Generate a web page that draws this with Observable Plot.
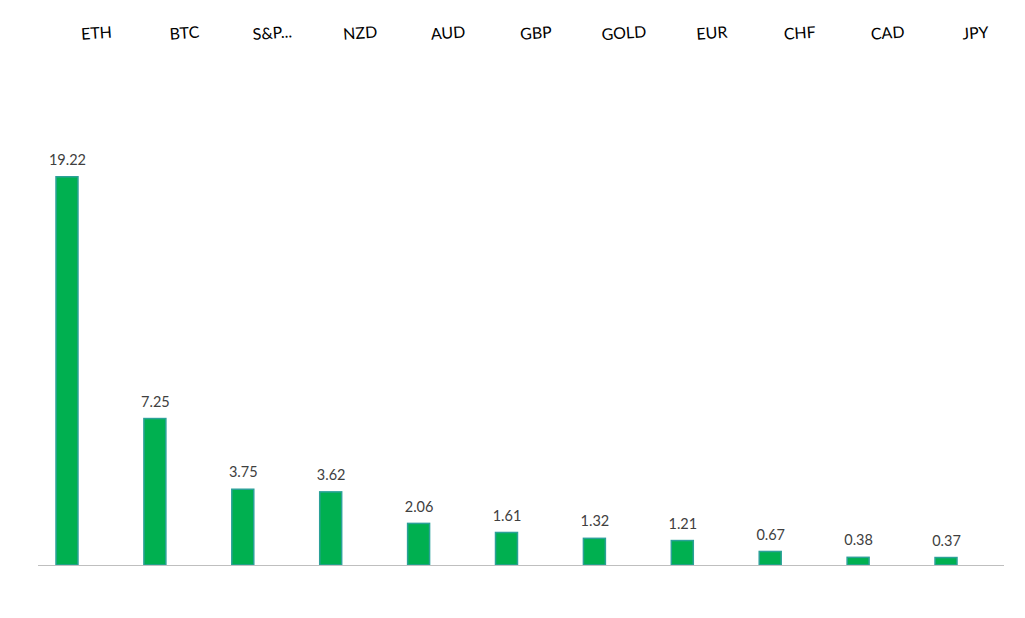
<!DOCTYPE html>
<html>
<head>
<meta charset="utf-8">
<script src="https://cdn.jsdelivr.net/npm/d3@7"></script>
<script src="https://cdn.jsdelivr.net/npm/@observablehq/plot@0.6"></script>
<style>
  html, body { margin: 0; padding: 0; background: #fff; }
</style>
</head>
<body>
<div id="chart"></div>
<script>
const categories = ["ETH", "BTC", "S&P...", "NZD", "AUD", "GBP", "GOLD", "EUR", "CHF", "CAD", "JPY"];
const values = [19.22, 7.25, 3.75, 3.62, 2.06, 1.61, 1.32, 1.21, 0.67, 0.38, 0.37];

const data = categories.map((c, i) => ({name: c, value: values[i]}));

const chart = Plot.plot({
  width: 1025,
  height: 618,
  marginLeft: 38,
  marginRight: 21,
  marginTop: 161,
  marginBottom: 53,
  style: {fontFamily: "Lato, 'Open Sans', sans-serif", background: "#fff"},
  x: {domain: categories, range: [56, 957], paddingInner: 0.75, paddingOuter: 0, round: false, axis: null},
  y: {domain: [0, 20], axis: null},
  marks: [
    Plot.barY(data, {x: "name", y: "value", fill: "#00B050", stroke: "#2ba198", strokeWidth: 1.5}),
    Plot.ruleY([0], {stroke: "#bfbfbf", strokeWidth: 1.2}),
    Plot.text(data, {x: "name", y: "value", text: d => d.value.toFixed(2), dy: -17, lineAnchor: "middle", fontSize: 14.5, fill: "#404040"}),
    Plot.text(categories, {x: d => d, frameAnchor: "top", dy: -128, dx: 29, rotate: -4, lineAnchor: "middle", fontSize: 16, fill: "#000"})
  ]
});
document.getElementById("chart").appendChild(chart);
</script>
</body>
</html>
